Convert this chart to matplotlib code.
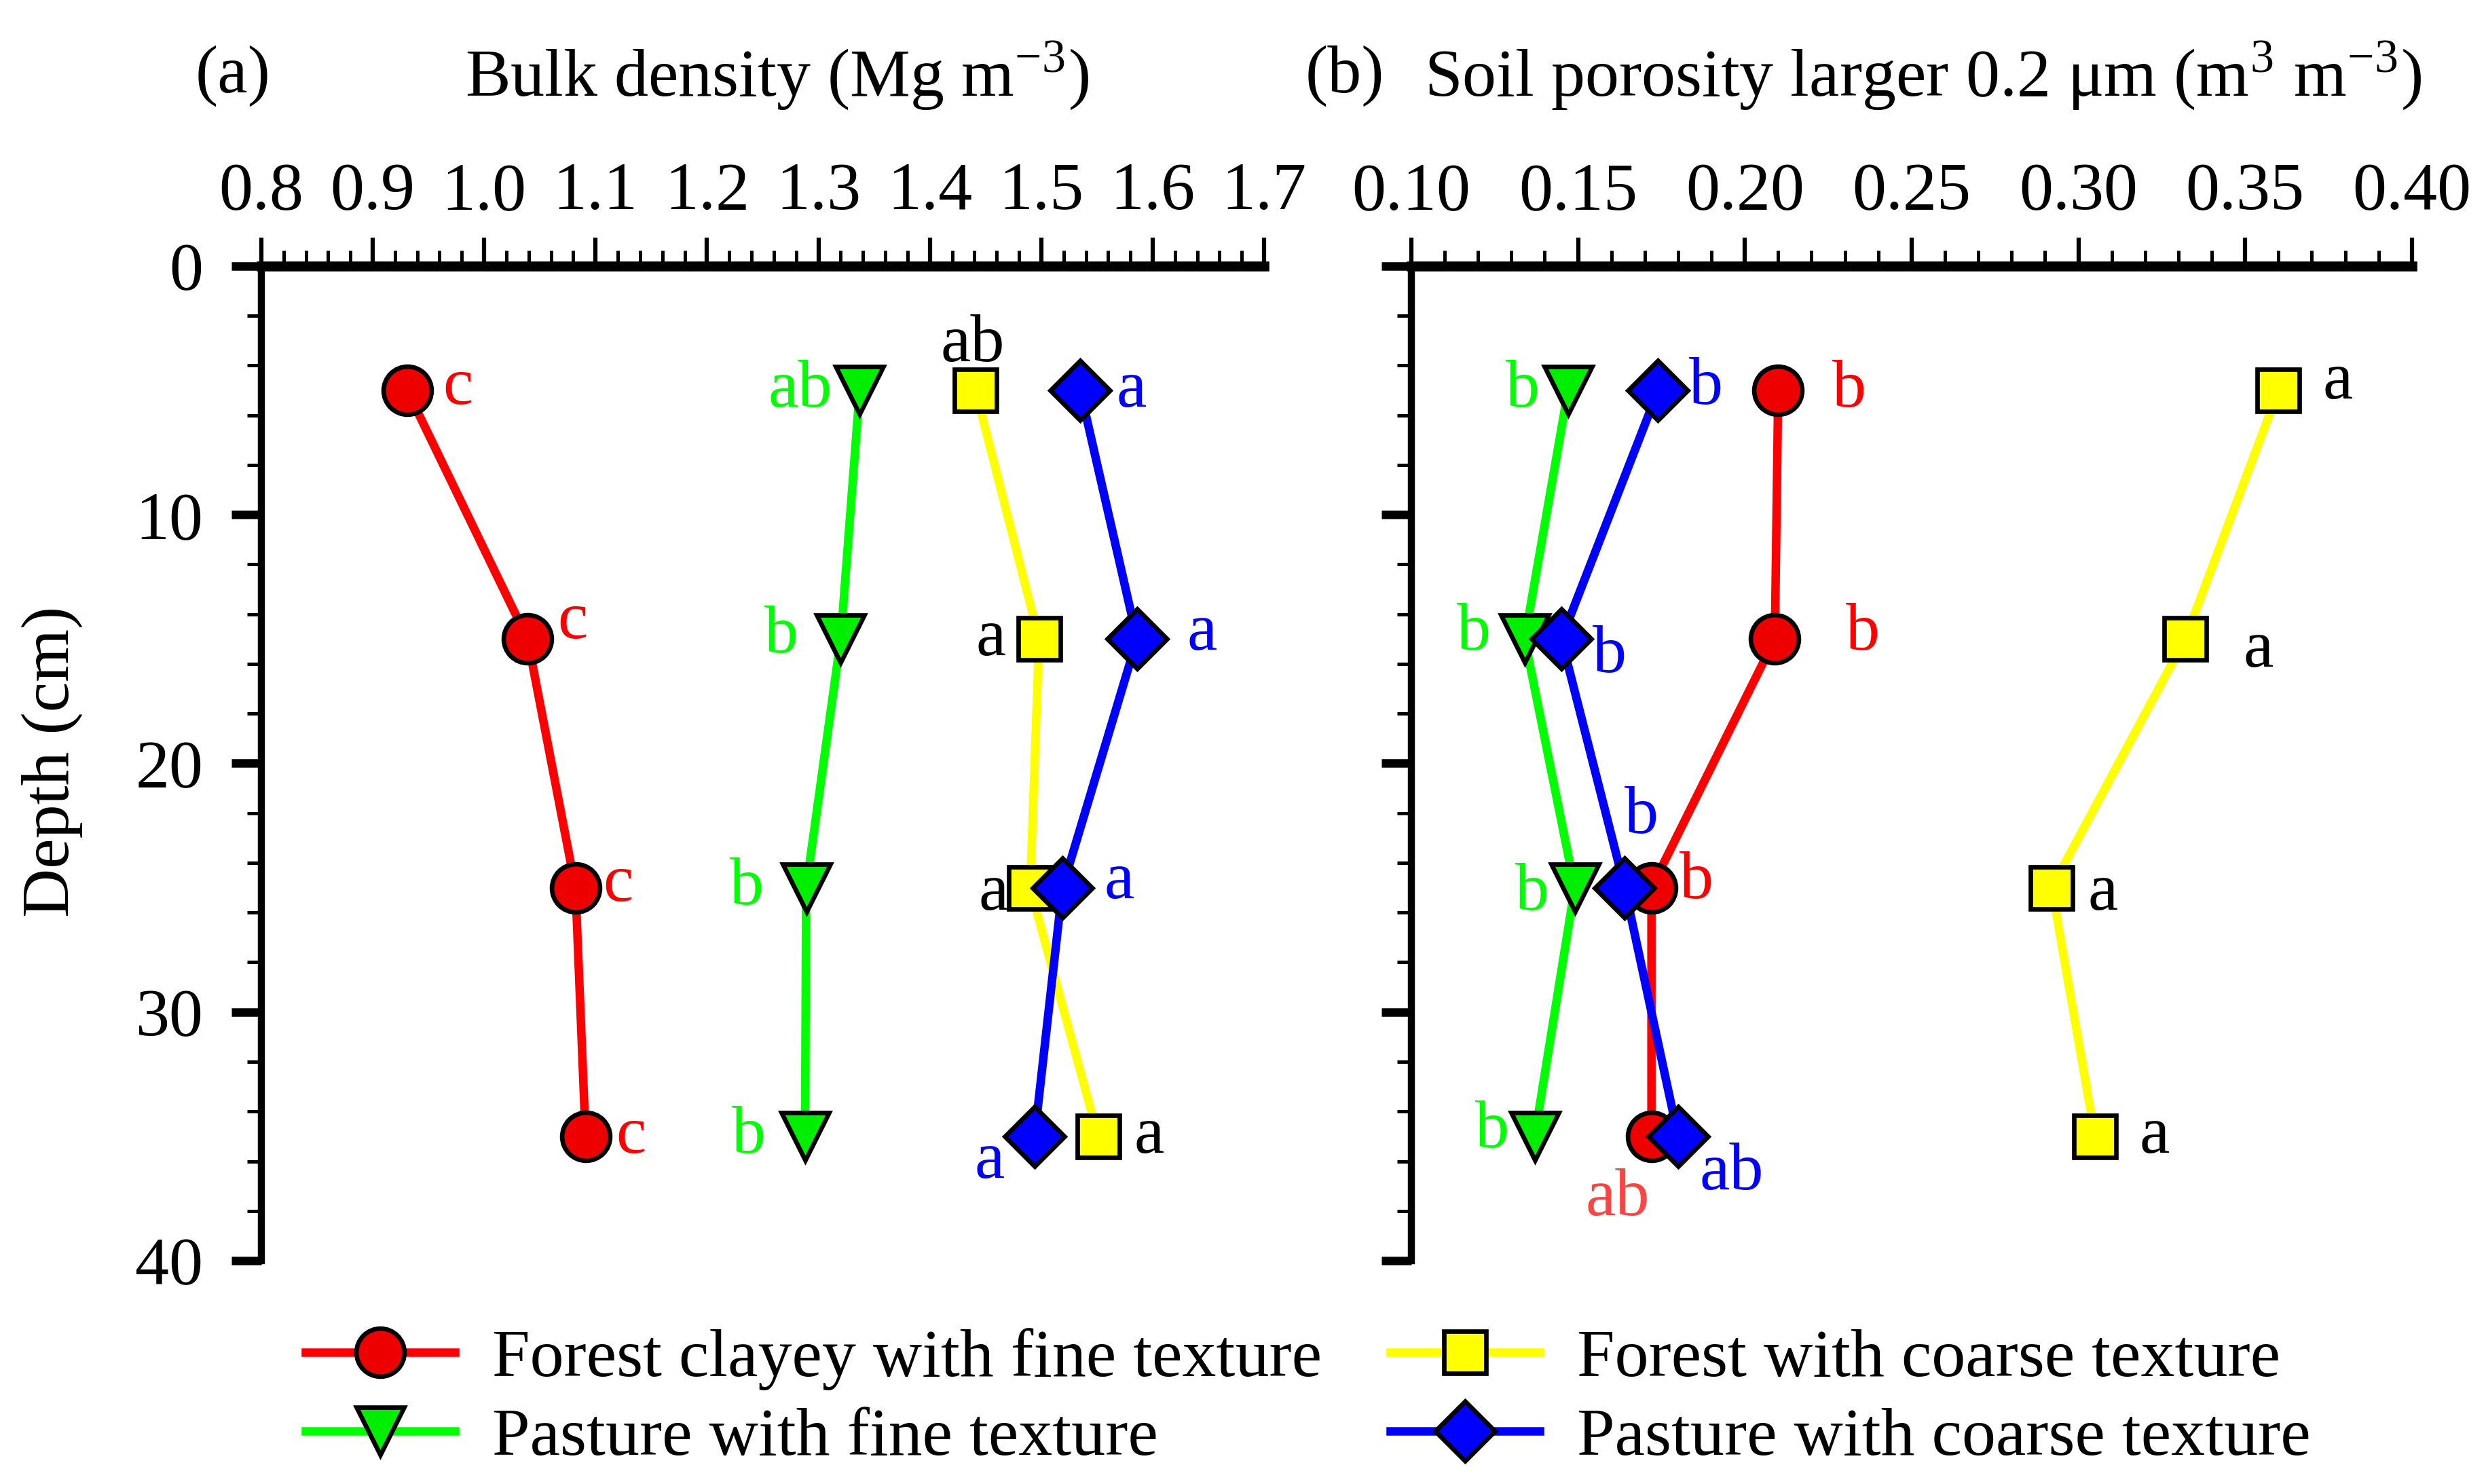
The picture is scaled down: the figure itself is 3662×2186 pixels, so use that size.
import numpy as np
import matplotlib
matplotlib.use('Agg')
import matplotlib.pyplot as plt
from matplotlib.ticker import MultipleLocator

plt.rcParams['font.family'] = ['Liberation Serif', 'DejaVu Serif']
plt.rcParams['mathtext.fontset'] = 'stix'

# depths (cm)
depth = [5, 15, 25, 35]

# bulk density (Mg m-3)
bd_forest_fine = [0.931, 1.039, 1.082, 1.091]
bd_pasture_fine = [1.337, 1.320, 1.289, 1.288]
bd_forest_coarse = [1.441, 1.498, 1.490, 1.551]
bd_pasture_coarse = [1.535, 1.586, 1.519, 1.494]

# porosity > 0.2 um (m3 m-3)
por_forest_fine = [0.210, 0.209, 0.172, 0.172]
por_pasture_fine = [0.147, 0.134, 0.149, 0.137]
por_forest_coarse = [0.360, 0.332, 0.292, 0.305]
por_pasture_coarse = [0.174, 0.145, 0.164, 0.180]

# significance letters
let_a = [['c', 'c', 'c', 'c'],
         ['ab', 'b', 'b', 'b'],
         ['ab', 'a', 'a', 'a'],
         ['a', 'a', 'a', 'a']]
let_b = [['b', 'b', 'b', 'ab'],
         ['b', 'b', 'b', 'b'],
         ['a', 'a', 'a', 'a'],
         ['b', 'b', 'b', 'ab']]

names = ['Forest clayey with fine texture', 'Pasture with fine texture',
         'Forest with coarse texture', 'Pasture with coarse texture']

# styles
colors = ['#ff0000', '#00ff00', '#ffff00', '#0000ff']
facecols = ['#ee0000', '#00ee00', '#ffff00', '#0000ff']
txtcols = ['#ff0000', '#00ff00', 'black', '#0000ff']
markers = ['o', 'v', 's', 'D']
msizes = [17, 17, 15, 15]

# label offsets in points (dx, dy)
off_a = [[(18, 1), (16, 6), (15, 1), (16, 0)],
         [(-21, 0), (-21, 1), (-21, 0), (-20, 0)],
         [(-1, 16), (-17, 0), (-13, -2), (18, 0)],
         [(18, 0), (23, 2), (20, 2), (-16, -9)]]
off_b = [[(25, 0), (31, 2), (16, 2), (-12, -22)],
         [(-16, 0), (-18, 2), (-15, -2), (-15, 2)],
         [(21, 3), (26, -4), (18, -2), (21, 0)],
         [(17, 1), (17, -6), (6, 25), (19, -13)]]

fig = plt.figure(figsize=(3662/300, 2186/300), dpi=300)
ax1 = fig.add_axes([0.1051, 0.1505, 0.4034, 0.6702])
ax2 = fig.add_axes([0.5677, 0.1505, 0.4025, 0.6702])

fs = 24


def setup(ax, xlim, major, minor, ylabels):
    ax.set_xlim(*xlim)
    ax.set_ylim(40, 0)
    ax.xaxis.tick_top()
    ax.xaxis.set_major_locator(MultipleLocator(major))
    ax.xaxis.set_minor_locator(MultipleLocator(minor))
    ax.yaxis.set_major_locator(MultipleLocator(10))
    ax.yaxis.set_minor_locator(MultipleLocator(2))
    for s in ['right', 'bottom']:
        ax.spines[s].set_visible(False)
    ax.spines['top'].set_linewidth(3.5)
    ax.spines['left'].set_linewidth(2.5)
    ax.tick_params(axis='x', which='major', direction='out', length=10,
                   width=1.5, pad=5, labelsize=fs)
    ax.tick_params(axis='x', which='minor', direction='out', length=5.5,
                   width=1.2)
    ax.tick_params(axis='y', which='major', direction='out', length=10.5,
                   width=3, pad=10, labelsize=fs, labelleft=ylabels)
    ax.tick_params(axis='y', which='minor', direction='out', length=5,
                   width=1.2)
    ax.patch.set_alpha(0)


setup(ax1, (0.8, 1.7), 0.1, 0.02, True)
ax1.xaxis.set_major_formatter(plt.FormatStrFormatter('%.1f'))
setup(ax2, (0.10, 0.40), 0.05, 0.01, False)
ax2.xaxis.set_major_formatter(plt.FormatStrFormatter('%.2f'))

series_a = [bd_forest_fine, bd_pasture_fine, bd_forest_coarse, bd_pasture_coarse]
series_b = [por_forest_fine, por_pasture_fine, por_forest_coarse, por_pasture_coarse]

handles = []
for ax, series, lets, offs in [(ax1, series_a, let_a, off_a),
                               (ax2, series_b, let_b, off_b)]:
    for i in range(4):
        h, = ax.plot(series[i], depth, color=colors[i], lw=3,
                     marker=markers[i], ms=msizes[i], mfc=facecols[i],
                     mec='black', mew=1.6, clip_on=False, zorder=3)
        if ax is ax1:
            handles.append(h)
        for j in range(4):
            tc = txtcols[i]
            if ax is ax2 and i == 0 and j == 3:
                tc = '#ff4444'
            ax.annotate(lets[i][j], (series[i][j], depth[j]),
                        xytext=offs[i][j], textcoords='offset points',
                        ha='center', va='center', fontsize=fs, color=tc,
                        zorder=4)

fig.text(0.0938, 0.9487, '(a)', fontsize=fs, ha='center', va='center')
fig.text(0.3125, 0.9487, 'Bulk density (Mg m$^{\\mathregular{-3}}$)',
         fontsize=fs, ha='center', va='center')
fig.text(0.541, 0.9487, '(b)', fontsize=fs, ha='center', va='center')
fig.text(0.7736, 0.9487,
         'Soil porosity larger 0.2 \u03bcm (m$^{\\mathregular{3}}$ m$^{\\mathregular{-3}}$)',
         fontsize=fs, ha='center', va='center')
fig.text(0.021, 0.487, 'Depth (cm)', fontsize=fs, rotation=90,
         ha='center', va='center')

fig.legend(handles, names, loc='upper left', bbox_to_anchor=(0.1230, 0.105),
           ncol=2, frameon=False, fontsize=fs, handlelength=2.2,
           handletextpad=0.55, columnspacing=1.0, labelspacing=0.25,
           borderpad=0, borderaxespad=0)

fig.savefig('out.png', dpi=300)
